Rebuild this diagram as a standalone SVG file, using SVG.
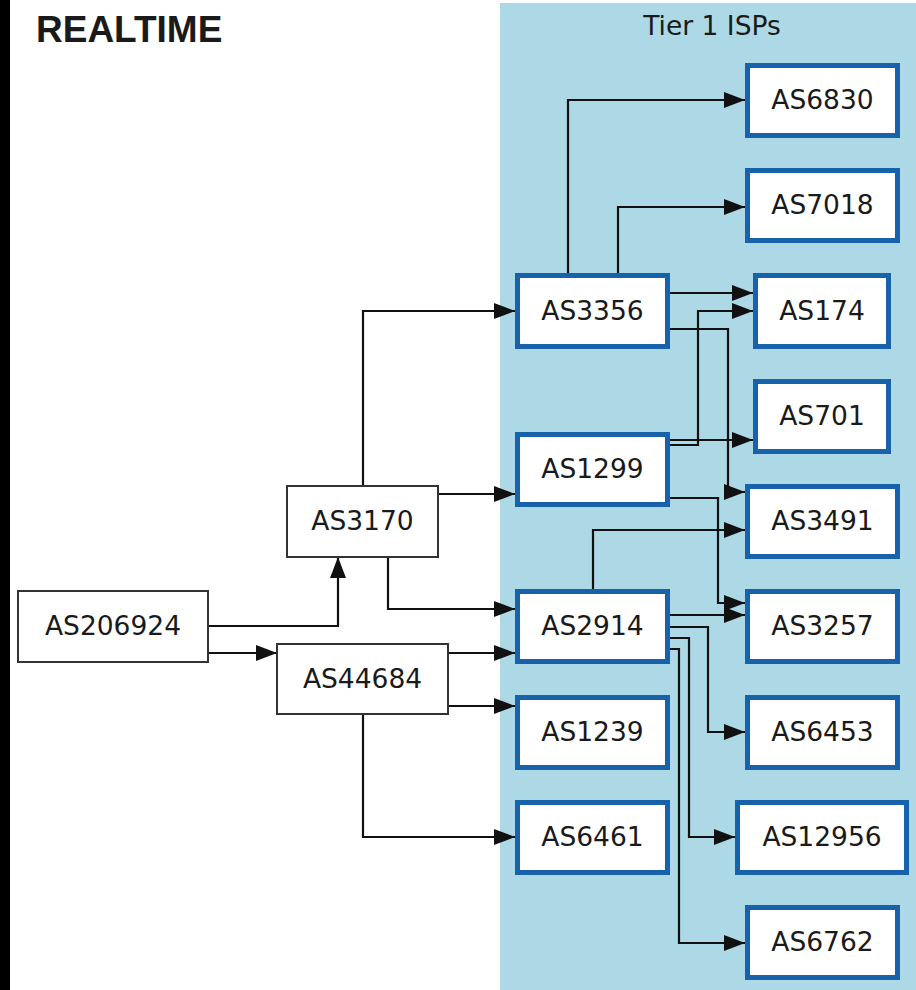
<svg xmlns="http://www.w3.org/2000/svg" width="916" height="990" viewBox="0 0 916 990">
<defs>
<style>
.t{font-family:"DejaVu Sans",sans-serif;font-size:26.5px;fill:#1a1a1a;text-anchor:middle}
.title{font-family:"Liberation Sans",Arial,sans-serif;font-weight:bold;font-size:37px;fill:#1a1a1a}
.tier{fill:#fff;stroke:#1762ab;stroke-width:5}
.plain{fill:#fff;stroke:#333;stroke-width:2}
.e{fill:none;stroke:#111;stroke-width:2.2;marker-end:url(#arr)}
</style>
<marker id="arr" markerUnits="userSpaceOnUse" markerWidth="21" markerHeight="16" refX="21" refY="8" orient="auto">
<path d="M0,0 L21,8 L0,16 z" fill="#111"/>
</marker>
</defs>
<rect x="0" y="0" width="916" height="990" fill="#fff"/>
<rect x="0" y="0" width="10" height="990" fill="#000"/>
<text class="title" x="36" y="42">REALTIME</text>
<g id="cluster_tier1">
<rect x="500" y="3" width="416" height="987" fill="#add8e6"/>
<text class="t" x="712" y="35">Tier 1 ISPs</text>
</g>
<g id="edges">
<path class="e" d="M208,626 H338 V557"/>
<path class="e" d="M208,653 H277"/>
<path class="e" d="M363,486 V311 H515"/>
<path class="e" d="M438,494 H515"/>
<path class="e" d="M388,557 V609 H515"/>
<path class="e" d="M448,653 H515"/>
<path class="e" d="M448,706 H515"/>
<path class="e" d="M363,714 V837 H515"/>
<path class="e" d="M568,273 V100 H745"/>
<path class="e" d="M618,273 V207 H745"/>
<path class="e" d="M669,293 H753"/>
<path class="e" d="M669,329 H728 V492 H745"/>
<path class="e" d="M669,445 H698 V311 H753"/>
<path class="e" d="M669,440 H753"/>
<path class="e" d="M669,498 H718 V603 H745"/>
<path class="e" d="M593,589 V530 H745"/>
<path class="e" d="M670,615 H745"/>
<path class="e" d="M670,627 H708 V732 H745"/>
<path class="e" d="M670,638 H689 V837 H735"/>
<path class="e" d="M670,649 H679 V943 H745"/>
</g>
<g id="AS206924"><rect class="plain" x="18" y="591" width="190" height="71"/><text class="t" x="113" y="635">AS206924</text></g>
<g id="AS3170"><rect class="plain" x="287" y="486" width="151" height="71"/><text class="t" x="362.5" y="530">AS3170</text></g>
<g id="AS44684"><rect class="plain" x="277" y="644" width="171" height="70"/><text class="t" x="362.5" y="688">AS44684</text></g>
<g id="AS3356"><rect class="tier" x="517.5" y="275.5" width="150" height="71"/><text class="t" x="592.5" y="320">AS3356</text></g>
<g id="AS1299"><rect class="tier" x="517.5" y="434.5" width="150" height="70"/><text class="t" x="592.5" y="478">AS1299</text></g>
<g id="AS2914"><rect class="tier" x="517.5" y="591.5" width="150" height="70"/><text class="t" x="592.5" y="635">AS2914</text></g>
<g id="AS1239"><rect class="tier" x="517.5" y="697.5" width="150" height="70"/><text class="t" x="592.5" y="741">AS1239</text></g>
<g id="AS6461"><rect class="tier" x="517.5" y="802.5" width="150" height="70"/><text class="t" x="592.5" y="846">AS6461</text></g>
<g id="AS6830"><rect class="tier" x="747.5" y="65.5" width="150" height="70"/><text class="t" x="822.5" y="109">AS6830</text></g>
<g id="AS7018"><rect class="tier" x="747.5" y="170.5" width="150" height="70"/><text class="t" x="822.5" y="214">AS7018</text></g>
<g id="AS174"><rect class="tier" x="755.5" y="275.5" width="133" height="71"/><text class="t" x="822" y="320">AS174</text></g>
<g id="AS701"><rect class="tier" x="755.5" y="381.5" width="133" height="70"/><text class="t" x="822" y="425">AS701</text></g>
<g id="AS3491"><rect class="tier" x="747.5" y="486.5" width="150" height="70"/><text class="t" x="822.5" y="530">AS3491</text></g>
<g id="AS3257"><rect class="tier" x="747.5" y="591.5" width="150" height="70"/><text class="t" x="822.5" y="635">AS3257</text></g>
<g id="AS6453"><rect class="tier" x="747.5" y="697.5" width="150" height="70"/><text class="t" x="822.5" y="741">AS6453</text></g>
<g id="AS12956"><rect class="tier" x="737.5" y="802.5" width="169" height="70"/><text class="t" x="822" y="846">AS12956</text></g>
<g id="AS6762"><rect class="tier" x="747.5" y="907.5" width="150" height="70"/><text class="t" x="822.5" y="951">AS6762</text></g>
</svg>
